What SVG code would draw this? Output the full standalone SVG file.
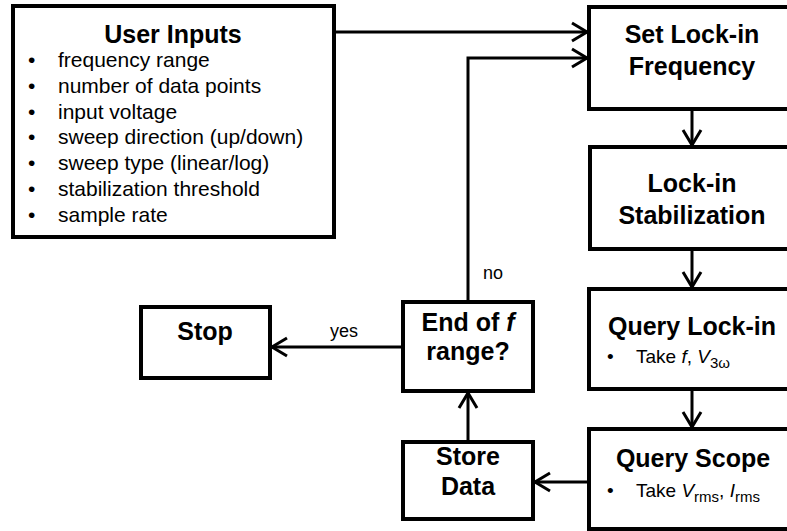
<svg xmlns="http://www.w3.org/2000/svg" width="787" height="531" viewBox="0 0 787 531">
  <style>
    .box { fill: #ffffff; stroke: #000000; stroke-width: 4; }
    .wire { fill: none; stroke: #000000; stroke-width: 3; }
    .title { font-family: "Liberation Sans", Arial, sans-serif; font-weight: bold; font-size: 25px; fill: #000000; text-anchor: middle; }
    .item { font-family: "Liberation Sans", Arial, sans-serif; font-size: 21px; fill: #000000; }
    .sub { font-family: "Liberation Sans", Arial, sans-serif; font-size: 19px; fill: #000000; }
    .lbl { font-family: "Liberation Sans", Arial, sans-serif; font-size: 18px; fill: #000000; text-anchor: middle; }
  </style>
  <defs>
    <marker id="arrow" markerUnits="userSpaceOnUse" markerWidth="30" markerHeight="30" refX="0" refY="0" viewBox="-20 -15 30 30" orient="auto" overflow="visible">
      <path d="M-15,-9 L0,0 L-15,9" fill="none" stroke="#000000" stroke-width="3"/>
    </marker>
  </defs>

  <rect x="0" y="0" width="787" height="531" fill="#ffffff"/>

  <!-- connectors -->
  <g id="connectors">
    <line class="wire" x1="335" y1="32" x2="587" y2="32" marker-end="url(#arrow)"/>
    <polyline class="wire" points="468,302 468,58 587,58" marker-end="url(#arrow)"/>
    <line class="wire" x1="692" y1="110" x2="692" y2="145" marker-end="url(#arrow)"/>
    <line class="wire" x1="692" y1="251" x2="692" y2="287" marker-end="url(#arrow)"/>
    <line class="wire" x1="692" y1="390" x2="692" y2="427" marker-end="url(#arrow)"/>
    <line class="wire" x1="589" y1="482" x2="535" y2="482" marker-end="url(#arrow)"/>
    <line class="wire" x1="468" y1="442" x2="468" y2="393" marker-end="url(#arrow)"/>
    <line class="wire" x1="403" y1="347" x2="272" y2="347" marker-end="url(#arrow)"/>
    <text class="lbl" x="493" y="279">no</text>
    <text class="lbl" x="344" y="337">yes</text>
  </g>

  <!-- user inputs -->
  <g id="user-inputs">
    <rect class="box" x="13" y="6" width="321" height="231"/>
    <text class="title" x="173" y="43">User Inputs</text>
    <g class="item">
      <text x="28" y="67">•</text><text x="58" y="67">frequency range</text>
      <text x="28" y="93">•</text><text x="58" y="93">number of data points</text>
      <text x="28" y="119">•</text><text x="58" y="119">input voltage</text>
      <text x="28" y="144">•</text><text x="58" y="144">sweep direction (up/down)</text>
      <text x="28" y="170">•</text><text x="58" y="170">sweep type (linear/log)</text>
      <text x="28" y="196">•</text><text x="58" y="196">stabilization threshold</text>
      <text x="28" y="222">•</text><text x="58" y="222">sample rate</text>
    </g>
  </g>

  <!-- set lock-in frequency -->
  <g id="set-frequency">
    <rect class="box" x="589" y="7" width="220" height="102"/>
    <text class="title" x="692" y="43">Set Lock-in</text>
    <text class="title" x="692" y="75">Frequency</text>
  </g>

  <!-- lock-in stabilization -->
  <g id="stabilization">
    <rect class="box" x="590" y="147" width="220" height="102"/>
    <text class="title" x="692" y="192">Lock-in</text>
    <text class="title" x="692" y="224">Stabilization</text>
  </g>

  <!-- query lock-in -->
  <g id="query-lockin">
    <rect class="box" x="589" y="289" width="220" height="100"/>
    <text class="title" x="692" y="335">Query Lock-in</text>
    <text class="sub" x="607" y="363">•</text>
    <text class="sub" x="636" y="363">Take <tspan font-style="italic">f</tspan>, <tspan font-style="italic">V</tspan><tspan font-size="15" dy="5">3ω</tspan></text>
  </g>

  <!-- query scope -->
  <g id="query-scope">
    <rect class="box" x="589" y="429" width="220" height="100"/>
    <text class="title" x="693" y="467">Query Scope</text>
    <text class="sub" x="607" y="497">•</text>
    <text class="sub" x="636" y="497">Take <tspan font-style="italic">V</tspan><tspan font-size="15" dy="5">rms</tspan><tspan dy="-5">, </tspan><tspan font-style="italic">I</tspan><tspan font-size="15" dy="5">rms</tspan></text>
  </g>

  <!-- end of range decision -->
  <g id="end-of-range">
    <rect class="box" x="403" y="302" width="130" height="89"/>
    <text class="title" x="468" y="331">End of <tspan font-style="italic">f</tspan></text>
    <text class="title" x="468" y="360">range?</text>
  </g>

  <!-- store data -->
  <g id="store-data">
    <rect class="box" x="403" y="442" width="130" height="77"/>
    <text class="title" x="468" y="465">Store</text>
    <text class="title" x="468" y="495">Data</text>
  </g>

  <!-- stop -->
  <g id="stop">
    <rect class="box" x="141" y="307" width="129" height="71"/>
    <text class="title" x="205" y="340">Stop</text>
  </g>
</svg>
